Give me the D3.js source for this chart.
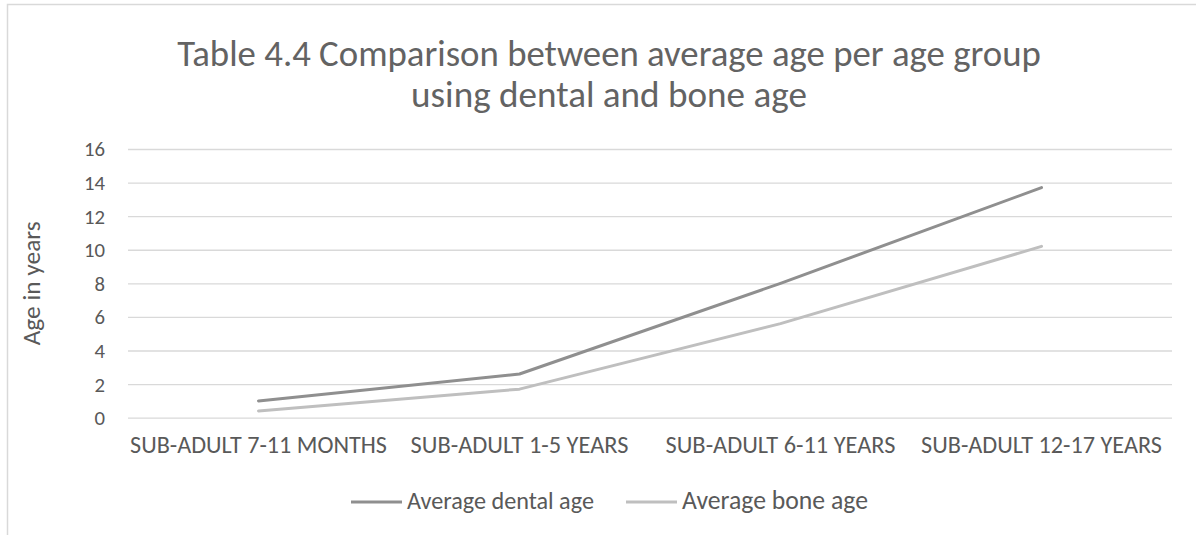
<!DOCTYPE html>
<html><head><meta charset="utf-8">
<script src="https://cdn.jsdelivr.net/npm/d3@7"></script>
<style>
html,body{margin:0;padding:0;background:#fff;}
svg text{font-family:Carlito,Calibri,Lato,"Noto Sans",sans-serif;fill:#595959;}
</style></head>
<body>
<svg id="chart" width="1196" height="535"></svg>
<script>
const categories = ["SUB-ADULT 7-11 MONTHS","SUB-ADULT 1-5 YEARS","SUB-ADULT 6-11 YEARS","SUB-ADULT 12-17 YEARS"];
const dentalAge = [1.0, 2.6, 8.0, 13.7];
const boneAge = [0.4, 1.7, 5.6, 10.2];
const yTicks = [0,2,4,6,8,10,12,14,16];
const seriesNames = ["Average dental age","Average bone age"];
const titleLines = ["Table 4.4 Comparison between average age per age group","using dental and bone age"];
const yTitle = "Age in years";

const svg = d3.select("#chart");
const W = 1196, H = 535;
const m = {left:128, right:1172, top:149, bottom:417.7};

// chart border
svg.append("path").attr("d",`M7.5,${H} V4.5 H${W}`).attr("fill","none").attr("stroke","#d9d9d9").attr("stroke-width",1.5);

const x = d3.scaleBand().domain(categories).range([m.left,m.right]);
const y = d3.scaleLinear().domain([0,16]).range([m.bottom,m.top]);

function fit(sel, target){
  const n = sel.node();
  const w = n.getComputedTextLength();
  const fs = parseFloat(sel.attr("font-size"));
  const nf = fs*target/w;
  sel.attr("font-size", nf);
  return nf;
}

// gridlines
const yAxis = d3.axisLeft(y).tickValues(yTicks).tickSize(-(m.right-m.left)).tickFormat("");
const ga = svg.append("g").attr("transform",`translate(${m.left},0)`).call(yAxis);
ga.select(".domain").remove();
ga.selectAll(".tick line").attr("stroke","#d9d9d9").attr("stroke-width",1.3);
ga.selectAll(".tick text").remove();

// y tick labels
const yl = svg.append("g").selectAll("text").data(yTicks).join("text")
  .attr("x",105).attr("y",d=>y(d)).attr("dy","0.36em").attr("text-anchor","end")
  .attr("font-size",19).text(d=>d);
const tickFs = fit(yl.filter(d=>d===16), 21);
yl.attr("font-size", tickFs);

// x axis labels
svg.append("g").selectAll("text").data(categories).join("text")
  .attr("x",d=>x(d)+x.bandwidth()/2).attr("y",453).attr("text-anchor","middle")
  .attr("font-size",16).text(d=>d)
  .each(function(d,i){ fit(d3.select(this), [257,218,230,241][i]); });

// lines
const line = d3.line().x((d,i)=>x(categories[i])+x.bandwidth()/2).y(d=>y(d));
svg.append("path").datum(boneAge).attr("d",line).attr("fill","none").attr("stroke","#bfbfbf").attr("stroke-width",3).attr("stroke-linecap","round").attr("stroke-linejoin","round");
svg.append("path").datum(dentalAge).attr("d",line).attr("fill","none").attr("stroke","#8f8f8f").attr("stroke-width",3).attr("stroke-linecap","round").attr("stroke-linejoin","round");

// title
titleLines.forEach((t,i)=>{
  const tt = svg.append("text").attr("x",609).attr("y",[66,107][i]).attr("text-anchor","middle")
    .attr("font-size",32).style("fill","#636363").text(t);
  fit(tt,[864,396][i]);
});

// y title
const yt = svg.append("text").attr("transform",`translate(40,${(m.top+m.bottom)/2}) rotate(-90)`).attr("text-anchor","middle").attr("font-size",21).text(yTitle);
fit(yt,124);

// legend
const legColors = ["#8f8f8f","#bfbfbf"];
const legX = [351,626];
seriesNames.forEach((s,i)=>{
  svg.append("line").attr("x1",legX[i]).attr("x2",legX[i]+51).attr("y1",502).attr("y2",502).attr("stroke",legColors[i]).attr("stroke-width",3);
  const lt = svg.append("text").attr("x",legX[i]+56).attr("y",509).attr("font-size",18).text(s);
  fit(lt,[187,186][i]);
});
</script>
</body></html>
